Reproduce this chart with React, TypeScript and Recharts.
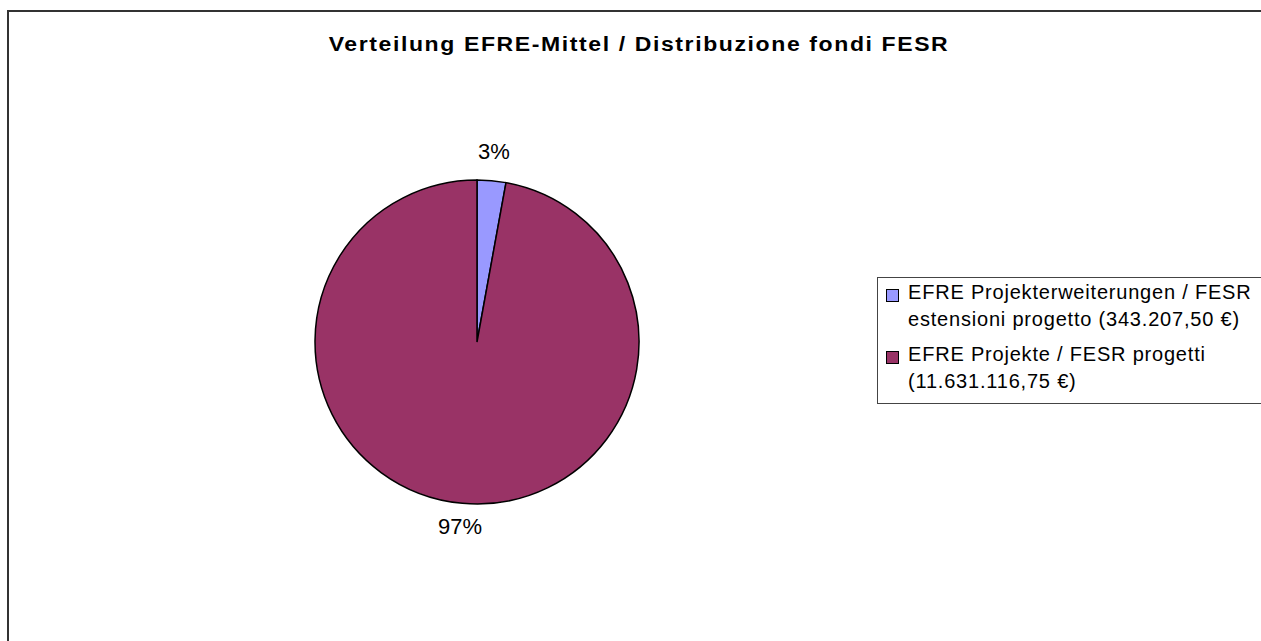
import React from 'react';
import {PieChart, Pie, Cell, Legend} from 'recharts';

const sliceNames = [
    'EFRE Projekterweiterungen / FESR\nestensioni progetto (343.207,50 €)',
    'EFRE Projekte / FESR progetti\n(11.631.116,75 €)',
];
const sliceValues = [343207.5, 11631116.75];
const sliceColors = ['#9999FF', '#993366'];
const chartTitle = 'Verteilung EFRE-Mittel / Distribuzione fondi FESR';

const data = sliceNames.map((name, i) => ({name, value: sliceValues[i]}));
const total = sliceValues.reduce((a, b) => a + b, 0);

const FONT = '"Liberation Sans", Arial, sans-serif';
const RAD = Math.PI / 180;

const renderLabel = (props: any) => {
    const {cx, cy, midAngle, outerRadius, value} = props;
    const r = outerRadius + 26;
    const x = cx + r * Math.cos(-midAngle * RAD);
    const y = cy + r * Math.sin(-midAngle * RAD) - 3;
    return (
        <text x={x} y={y} fill="#000" fontSize={22} fontFamily={FONT}
              textAnchor="middle" dominantBaseline="central">
            {Math.round((value / total) * 100) + '%'}
        </text>
    );
};

const renderLegend = () => (
    <div style={{
        border: '1px solid #444',
        background: '#fff',
        padding: '1px 0 8px 8px',
        width: 420,
        fontFamily: FONT,
        fontSize: 20,
        letterSpacing: 0.8,
        color: '#000',
    }}>
        {data.map((d, i) => (
            <div key={i} style={{display: 'flex', alignItems: 'flex-start', marginTop: i ? 8 : 0}}>
                <span style={{
                    width: 11,
                    height: 11,
                    border: '1px solid #000',
                    background: sliceColors[i],
                    marginTop: 10,
                    marginRight: 9,
                    flex: 'none',
                }}/>
                <span style={{whiteSpace: 'pre', lineHeight: '27px'}}>{d.name}</span>
            </div>
        ))}
    </div>
);

const App: React.FC = () => {
    return (
        <div style={{position: 'fixed', left: 0, top: 0, width: 1261, height: 641, overflow: 'hidden', background: '#fff'}}>
            <div style={{
                position: 'absolute',
                left: 7,
                top: 10,
                width: 1320,
                height: 720,
                border: '2px solid #333',
            }}/>
            <div style={{
                position: 'absolute',
                left: 0,
                top: 33,
                width: 1278,
                textAlign: 'center',
                fontFamily: FONT,
                fontWeight: 'bold',
                fontSize: 20,
                lineHeight: '23px',
                letterSpacing: 1.4,
                color: '#000',
                transform: 'scaleX(1.15)',
                transformOrigin: '639px 50%',
            }}>
                {chartTitle}
            </div>
            <div style={{position: 'absolute', left: 0, top: 0}}>
                <PieChart width={1261} height={641} margin={{top: 0, right: 0, bottom: 0, left: 0}}>
                    <Pie
                        data={data}
                        dataKey="value"
                        nameKey="name"
                        cx={477}
                        cy={342}
                        outerRadius={162}
                        startAngle={90}
                        endAngle={-270}
                        stroke="#000"
                        strokeWidth={1.5}
                        label={renderLabel}
                        labelLine={false}
                        isAnimationActive={false}
                    >
                        {data.map((d, i) => (
                            <Cell key={d.name} fill={sliceColors[i]}/>
                        ))}
                    </Pie>
                    <Legend
                        content={renderLegend}
                        layout="vertical"
                        align="right"
                        verticalAlign="middle"
                        wrapperStyle={{left: 877, top: 277, right: 'auto', bottom: 'auto', width: 420}}
                    />
                </PieChart>
            </div>
        </div>
    );
};

export default App;
